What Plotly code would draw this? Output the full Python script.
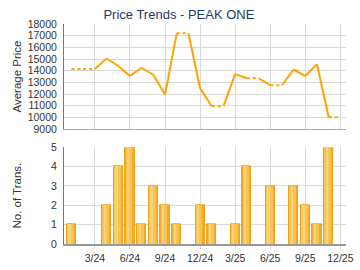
import plotly.graph_objects as go

months = ["1/24","2/24","3/24","4/24","5/24","6/24","7/24","8/24","9/24","10/24","11/24","12/24",
          "1/25","2/25","3/25","4/25","5/25","6/25","7/25","8/25","9/25","10/25","11/25","12/25"]
prices = [14150, None, None, 15050, 14400, 13550, 14250, 13650, 11950, 17200, None, 12500,
          10950, None, 13700, 13350, None, 12750, None, 14100, 13550, 14550, 10000, None]
counts = [1, 0, 0, 2, 4, 5, 1, 3, 2, 1, 0, 2, 1, 0, 1, 4, 0, 3, 0, 3, 2, 1, 5, 0]
tick_labels = ["3/24","6/24","9/24","12/24","3/25","6/25","9/25","12/25"]

idx = list(range(len(months)))
tick_vals = [months.index(t) for t in tick_labels]

# carried-forward series: solid segments end at months with data, dotted otherwise
carried = []
last = None
for p in prices:
    if p is not None:
        last = p
    carried.append(last)

sx, sy, dx, dy = [], [], [], []
for i in range(1, len(idx)):
    seg_x = [idx[i-1], idx[i], None]
    seg_y = [carried[i-1], carried[i], None]
    if prices[i] is None:
        dx += seg_x; dy += seg_y
    else:
        sx += seg_x; sy += seg_y

bar_y = [c if c > 0 else None for c in counts]

orange = "#FFA300"
fig = go.Figure()
fig.add_trace(go.Scatter(x=sx, y=sy, mode="lines", line=dict(color=orange, width=2),
                         xaxis="x2", yaxis="y2", hoverinfo="skip", showlegend=False))
fig.add_trace(go.Scatter(x=dx, y=dy, mode="lines", line=dict(color=orange, width=2, dash="dot"),
                         xaxis="x2", yaxis="y2", hoverinfo="skip", showlegend=False))
# base bar (darker right side)
fig.add_trace(go.Bar(x=idx, y=bar_y, width=0.78, offset=-0.39,
                     marker=dict(color="#F3A92A", line=dict(color="#EFA21A", width=1)),
                     xaxis="x", yaxis="y", showlegend=False, hoverinfo="skip"))
# lighter body
fig.add_trace(go.Bar(x=idx, y=bar_y, width=0.56, offset=-0.36,
                     marker=dict(color="#F9C352", line=dict(width=0)),
                     xaxis="x", yaxis="y", showlegend=False, hoverinfo="skip"))
# highlight stripe
fig.add_trace(go.Bar(x=idx, y=bar_y, width=0.2, offset=-0.26,
                     marker=dict(color="#FBD27C", line=dict(width=0)),
                     xaxis="x", yaxis="y", showlegend=False, hoverinfo="skip"))

grid = "#D9D9D9"
tickfont = dict(family="Liberation Sans, Arial", size=10.5, color="#333333")
titlefont = dict(family="Liberation Sans, Arial", size=11.5, color="#333333")
xr = [-0.64, 23.48]

fig.update_layout(
    width=360, height=270,
    margin=dict(l=64, r=6, t=24, b=26),
    paper_bgcolor="white", plot_bgcolor="white",
    title=dict(text="Price Trends - PEAK ONE", x=0.497, xanchor="center", y=0.945, yanchor="middle",
               font=dict(family="Liberation Sans, Arial", size=13, color="#1F3864")),
    barmode="overlay", bargap=0,
    xaxis=dict(domain=[0, 1], range=xr, tickvals=tick_vals, ticktext=tick_labels,
               showgrid=True, gridcolor=grid, gridwidth=1, tickfont=tickfont,
               showline=True, linecolor="#999999", linewidth=2, ticks="outside",
               ticklen=3, tickcolor=grid, zeroline=False, anchor="y",
               ticklabeloverflow="allow"),
    yaxis=dict(domain=[0, 0.4395], range=[0, 5], dtick=1, showgrid=True, gridcolor=grid,
               tickfont=tickfont, showline=True, linecolor="#777777", linewidth=1,
               zeroline=False, ticklabelstandoff=4,
               title=dict(text="No. of Trans.", font=titlefont, standoff=27),
               anchor="x"),
    xaxis2=dict(domain=[0, 1], range=xr, tickvals=tick_vals, showticklabels=False,
                showgrid=True, gridcolor=grid, showline=True, linecolor="#AAAAAA",
                linewidth=1, zeroline=False, anchor="y2"),
    yaxis2=dict(domain=[0.5227, 1], range=[9000, 18000], dtick=1000, tickformat="d",
                showgrid=True, gridcolor=grid, tickfont=tickfont, showline=True,
                linecolor="#777777", linewidth=1, zeroline=False, ticklabelstandoff=4,
                title=dict(text="Average Price", font=titlefont, standoff=3), anchor="x2"),
)

fig.write_html("out.html")
